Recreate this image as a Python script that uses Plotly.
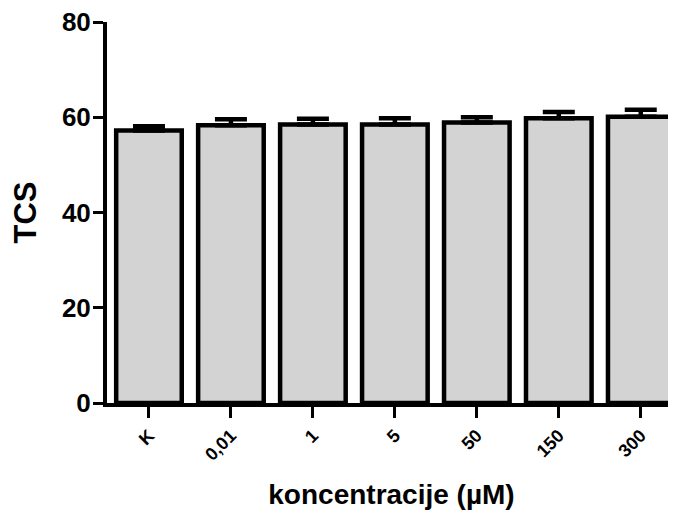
import plotly.graph_objects as go

categories = ["K", "0,01", "1", "5", "50", "150", "300"]
values = [57.2, 58.3, 58.5, 58.5, 58.9, 59.8, 60.1]
errors = [0.9, 1.3, 1.2, 1.3, 1.1, 1.3, 1.5]
y_ticks = [0, 20, 40, 60, 80]

FONT = "Arial, Liberation Sans, sans-serif"

fig = go.Figure()
fig.add_trace(go.Bar(
    x=list(range(len(categories))),
    y=values,
    width=0.8,
    marker=dict(color="#d3d3d3", line=dict(color="black", width=4.5)),
    error_y=dict(type="data", array=errors, arrayminus=[0] * len(errors),
                 symmetric=False, color="black", thickness=4.5, width=16),
))

# page body has an 8px default margin, so the figure is 8px smaller
fig.update_layout(
    width=668, height=502,
    margin=dict(l=99, r=0, t=14, b=107, autoexpand=False),
    paper_bgcolor="white", plot_bgcolor="white",
    showlegend=False,
    font=dict(family=FONT, color="black"),
    xaxis=dict(
        range=[-0.512, 6.43],
        automargin=False,
        tickmode="array",
        tickvals=list(range(len(categories))),
        ticktext=["<b>%s</b>" % c for c in categories],
        tickangle=-45,
        tickfont=dict(size=18, family=FONT, color="black"),
        ticks="outside", ticklen=11, tickwidth=3, tickcolor="black",
        showline=True, linewidth=4, linecolor="black",
        showgrid=False, zeroline=False,
        ticklabeloverflow="allow",
        title=dict(text="<b>koncentracije (µM)</b>", font=dict(size=28, family=FONT), standoff=22),
    ),
    yaxis=dict(
        range=[0, 80],
        automargin=False,
        tickmode="array",
        tickvals=y_ticks,
        ticktext=["<b>%d</b>" % t for t in y_ticks],
        tickfont=dict(size=26, family=FONT, color="black"),
        ticks="outside", ticklen=10, tickwidth=3, tickcolor="black",
        showline=True, linewidth=4, linecolor="black",
        showgrid=False, zeroline=False,
        ticklabeloverflow="allow",
        ticklabelstandoff=-3,
        title=dict(text="<b>TCS</b>", font=dict(size=31, family=FONT), standoff=26),
    ),
)

fig.write_html("out.html")
